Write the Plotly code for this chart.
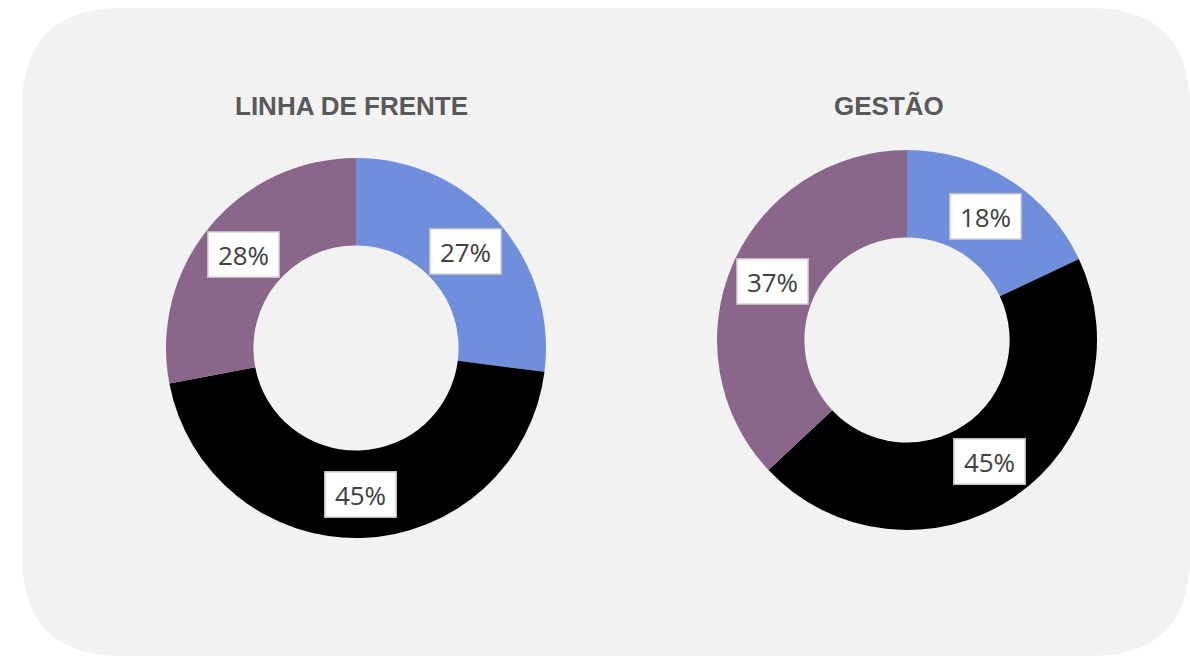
import math
import plotly.graph_objects as go

categories = ["Azul", "Preto", "Roxo"]
titles = ["LINHA DE FRENTE", "GESTÃO"]
linha_frente = [27, 45, 28]
gestao = [18, 45, 37]
colors = ["#6f8fdc", "#000000", "#8b668b"]

W, H = 1190, 656
series = [linha_frente, gestao]
# pie geometry in pixels (center x, center y, outer radius)
geo = [(356, 348, 190), (907, 340, 190)]
title_pos = [(351, 106), (889, 106)]
hole = 0.54

fig = go.Figure()
annotations = []
for vals, title, (cx, cy, r), (tx, ty) in zip(series, titles, geo, title_pos):
    fig.add_trace(go.Pie(
        labels=categories, values=vals, hole=hole, sort=False,
        direction="clockwise", rotation=0,
        marker=dict(colors=colors, line=dict(width=0)),
        textinfo="none", hoverinfo="label+percent", showlegend=False,
        domain=dict(x=[(cx - r) / W, (cx + r) / W], y=[(H - cy - r) / H, (H - cy + r) / H]),
    ))
    total = sum(vals)
    start = 0.0
    rm = r * (1 + hole) / 2
    for v in vals:
        mid = (start + v / 2) / total * 2 * math.pi
        start += v
        px = cx + rm * math.sin(mid)
        py = cy - rm * math.cos(mid)
        annotations.append(dict(
            x=px / W, y=1 - py / H, xref="paper", yref="paper",
            xanchor="center", yanchor="middle",
            text=f"{round(v / total * 100)}%", showarrow=False,
            font=dict(family="Open Sans, Liberation Sans, sans-serif", size=26, color="#404040"),
            width=62, height=36,
            bgcolor="#ffffff", bordercolor="#bfbfbf", borderwidth=1.5, borderpad=4,
        ))
    annotations.append(dict(
        x=tx / W, y=1 - ty / H, xref="paper", yref="paper",
        xanchor="center", yanchor="middle", text=f"<b>{title}</b>", showarrow=False,
        font=dict(family="Liberation Sans, Arial, sans-serif", size=26, color="#595959")))

# rounded background panel (pixel path converted to paper coords)
x0, y0, x1, y1, rad = 22, 8, 1190, 656, 100
pts = [("M", x0 + rad, y0), ("L", x1 - rad, y0), ("Q", x1, y0, x1, y0 + rad),
       ("L", x1, y1 - rad), ("Q", x1, y1, x1 - rad, y1), ("L", x0 + rad, y1),
       ("Q", x0, y1, x0, y1 - rad), ("L", x0, y0 + rad), ("Q", x0, y0, x0 + rad, y0)]
segs = []
for p in pts:
    cmd, nums = p[0], p[1:]
    coords = [f"{nums[i] / W:.5f},{1 - nums[i + 1] / H:.5f}" for i in range(0, len(nums), 2)]
    segs.append(cmd + " " + " ".join(coords))
path = " ".join(segs) + " Z"

fig.update_layout(
    width=W, height=H, margin=dict(l=0, r=0, t=0, b=0),
    paper_bgcolor="#ffffff", plot_bgcolor="#ffffff",
    annotations=annotations,
    shapes=[dict(type="path", path=path, xref="paper", yref="paper",
                 fillcolor="#f2f2f2", line=dict(width=0), layer="below")],
)
fig.write_html("out.html", config={"displayModeBar": False},
               post_script="document.body.style.margin='0';document.body.style.padding='0';")
